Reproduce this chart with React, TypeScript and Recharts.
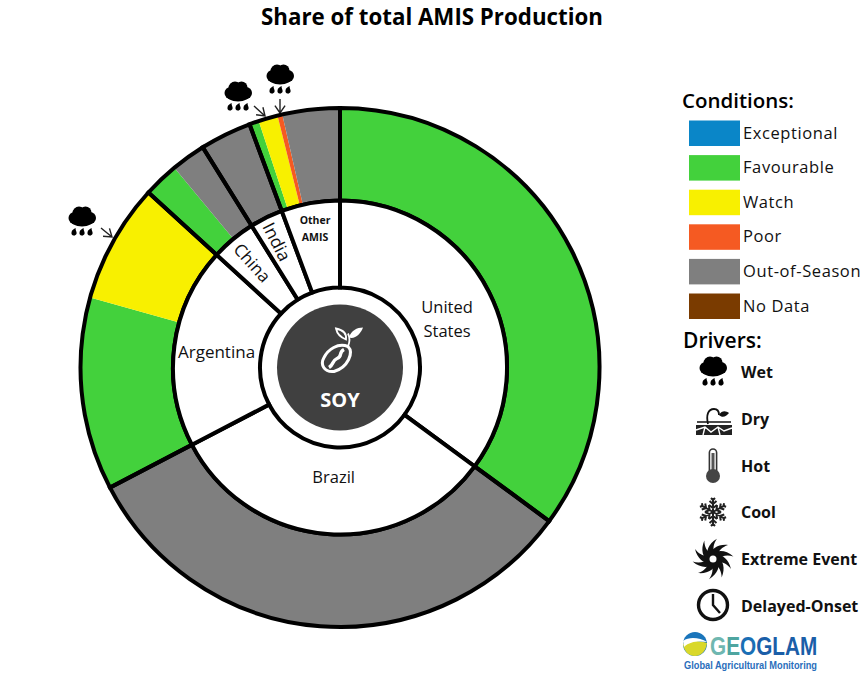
import React from 'react';
import { PieChart, Pie, Cell } from 'recharts';

const countries = ['United States', 'Brazil', 'Argentina', 'China', 'India', 'Other AMIS'];
const countryShares = [35.08, 32.26, 19.44, 4.35, 3.2, 5.67];

const conditionNames = ['US Favourable', 'Brazil Out', 'Argentina Favourable', 'Argentina Watch', 'China Favourable', 'China Out', 'India Out', 'Other Favourable', 'Other Watch', 'Other Poor', 'Other Out'];
const conditionShares = [35.08, 32.26, 12.0, 7.44, 2.2, 2.15, 3.2, 0.6, 1.2, 0.3, 3.57];
const conditionKinds = ['Favourable', 'Out-of-Season', 'Favourable', 'Watch', 'Favourable', 'Out-of-Season', 'Out-of-Season', 'Favourable', 'Watch', 'Poor', 'Out-of-Season'];

const legendConditions = ['Exceptional', 'Favourable', 'Watch', 'Poor', 'Out-of-Season', 'No Data'];
const legendColors = ['#0a86c8', '#43d13c', '#f8f000', '#f55a22', '#7f7f7f', '#7a3b00'];
const drivers = ['Wet', 'Dry', 'Hot', 'Cool', 'Extreme Event', 'Delayed-Onset'];

const colorOf = (k: string) => legendColors[legendConditions.indexOf(k)];
const countryData = countries.map((name, i) => ({ name, value: countryShares[i] }));
const conditionData = conditionNames.map((name, i) => ({ name, value: conditionShares[i], kind: conditionKinds[i] }));

const CX = 340, CY = 367.5, W = 865, H = 675;
const labelFont = '"Open Sans", "Noto Sans", sans-serif';

const labelStyle: Record<string, { r: number; rot: number; size: number; weight?: number; lines: string[]; lh: number; dx?: number; dy?: number }> = {
  'United States': { r: 120, rot: 0, size: 16.5, lines: ['United', 'States'], lh: 24, dy: 6 },
  Brazil: { r: 110, rot: 0, size: 16.5, lines: ['Brazil'], lh: 0, dx: 2 },
  Argentina: { r: 123, rot: 0, size: 17, lines: ['Argentina'], lh: 0, dx: -1.5 },
  China: { r: 136, rot: 48, size: 17, lines: ['China'], lh: 0, dx: -1 },
  India: { r: 140, rot: 63, size: 17.5, lines: ['India'], lh: 0, dx: -1.5 },
  'Other AMIS': { r: 141, rot: 0, size: 10.5, weight: 700, lines: ['Other', 'AMIS'], lh: 17 },
};

const renderCountryLabel = (p: any) => {
  const s = labelStyle[p.name];
  const a = (-p.midAngle * Math.PI) / 180;
  const x = p.cx + s.r * Math.cos(a) + (s.dx ?? 0);
  const y = p.cy + s.r * Math.sin(a) + (s.dy ?? 0);
  return (
    <text key={p.name} transform={`translate(${x},${y}) rotate(${s.rot})`} textAnchor="middle" fontFamily={labelFont} fontSize={s.size} fontWeight={s.weight ?? 400} fill="#111">
      {s.lines.map((l, i) => (
        <tspan key={l} x={0} y={(i - (s.lines.length - 1) / 2) * s.lh + s.size * 0.35}>{l}</tspan>
      ))}
    </text>
  );
};

const Drop = ({ x, y }: { x: number; y: number }) => (
  <path d={`M${x + 1.6},${y - 3.4} C${x + 1.4},${y - 1} ${x + 2.6},${y} ${x + 2.6},${y + 1.2} A2.6,2.6 0 1 1 ${x - 2.4},${y + 0.6} C${x - 2.4},${y - 1} ${x},${y - 2.6} ${x + 1.6},${y - 3.4} Z`} fill="#000" />
);

const Rain = ({ x, y, s = 1 }: { x: number; y: number; s?: number }) => (
  <g transform={`translate(${x},${y}) scale(${s})`}>
    <circle cx={-7.5} cy={1} r={6} />
    <circle cx={-3} cy={-4} r={6.5} />
    <circle cx={3.5} cy={-4.5} r={6} />
    <circle cx={8} cy={1} r={6} />
    <ellipse cx={0} cy={3} rx={12} ry={6.5} />
    <Drop x={-8} y={14.5} />
    <Drop x={0} y={14.5} />
    <Drop x={8} y={14.5} />
  </g>
);

const Arrow = ({ x1, y1, x2, y2 }: { x1: number; y1: number; x2: number; y2: number }) => {
  const a = Math.atan2(y2 - y1, x2 - x1);
  const h = 9;
  const p = (d: number) => `${x2 - h * Math.cos(a + d)},${y2 - h * Math.sin(a + d)}`;
  return <path d={`M${x1},${y1} L${x2},${y2} M${p(0.6)} L${x2},${y2} L${p(-0.6)}`} stroke="#222" strokeWidth={1.4} fill="none" />;
};

const Snow = ({ x, y }: { x: number; y: number }) => (
  <g transform={`translate(${x},${y})`} stroke="#222" strokeWidth={2} fill="none">
    {[0, 60, 120, 180, 240, 300].map((a) => (
      <g key={a} transform={`rotate(${a})`}>
        <path d="M0,0 L0,-14 M-3.5,-11 L0,-8 L3.5,-11 M-4,-7 L0,-4 L4,-7 M-2,-14 L0,-12 L2,-14" />
      </g>
    ))}
  </g>
);

const Swirl = ({ x, y }: { x: number; y: number }) => (
  <g transform={`translate(${x},${y})`}>
    {[0, 36, 72, 108, 144, 180, 216, 252, 288, 324].map((a) => (
      <path key={a} transform={`rotate(${a})`} d="M-4,-3 C-2,-10 5,-15 15,-14 C9,-12 5,-8 4,-2 Z" fill="#111" />
    ))}
    <circle r={3.5} fill="#fff" />
  </g>
);

const Clock = ({ x, y }: { x: number; y: number }) => (
  <g transform={`translate(${x},${y})`} fill="none" stroke="#111">
    <circle r={14.5} strokeWidth={3.4} />
    <path d="M0,-11 L0,0 L7,8" strokeWidth={2.4} />
  </g>
);

const Thermo = ({ x, y }: { x: number; y: number }) => (
  <g transform={`translate(${x},${y})`}>
    <rect x={-3.6} y={-17} width={7.2} height={26} rx={3.6} fill="#fff" stroke="#333" strokeWidth={1.6} />
    <path d="M0,-13 L0,6" stroke="#555" strokeWidth={3} />
    <circle cx={0} cy={10} r={7} fill="#444" />
  </g>
);

const DryIcon = ({ x, y }: { x: number; y: number }) => (
  <g transform={`translate(${x},${y})`}>
    <path d="M-6,3 C-8,-6 -6,-12 0,-12 C4,-12 5,-9 5,-6" fill="none" stroke="#111" strokeWidth={1.8} />
    <path d="M5,-6 C8,-11 12,-10 15,-8 C12,-4 8,-3 5,-6 Z" fill="#111" />
    <path d="M-17,1 L17,1" stroke="#111" strokeWidth={1.6} />
    <path d="M-18,4 H18 V14 H-18 Z" fill="#222" />
    <path d="M-18,9 L-9,6 L-3,11 L4,6 L10,10 L18,7 M-9,6 L-11,14 M4,6 L6,14" fill="none" stroke="#fff" strokeWidth={1.4} />
  </g>
);

const SoyIcon = ({ x, y }: { x: number; y: number }) => (
  <g transform={`translate(${x},${y})`}>
    <path d="M8,-8 C14,-2 8,13 -6,17 C-16,18 -20,10 -16,3 C-12,-5 -2,-12 8,-8 Z" fill="none" stroke="#fff" strokeWidth={3} />
    <path d="M4,-5 C-2,-2 3,2 -3,4 C-8,6 -6,10 -11,13" fill="none" stroke="#fff" strokeWidth={3.4} />
    <path d="M8,-8 C10,-13 10,-17 8,-21" fill="none" stroke="#fff" strokeWidth={1.8} />
    <path d="M9,-17 C11,-24 17,-27 23,-27 C21,-21 15,-15 9,-17 Z" fill="#fff" />
    <path d="M6,-15 C1,-17 -3,-21 -4,-26 C1,-25 7,-22 6,-15 Z" fill="none" stroke="#fff" strokeWidth={1.8} />
  </g>
);

const GeoLogo = () => (
  <g fontFamily='"Liberation Sans", sans-serif' fontWeight={700}>
    <circle cx={695} cy={644} r={12} fill="#1a75bb" />
    <path d="M683,644 C689,639 698,641 707,643 C706,651 701,656 695,656 C688,656 684,651 683,644 Z" fill="#d9d82a" />
    <path d="M683,641 C690,636 700,638 707,642 C699,641 690,641 684,647 Z" fill="#fff" />
    <text transform="translate(710,655) scale(0.83,1)" fontSize={25}>
      <tspan fill="#6fb7b0">G</tspan>
      <tspan fill="#4ea5a0">E</tspan>
      <tspan fill="#1a6fb5">O</tspan>
      <tspan fill="#1a5ea8">GLAM</tspan>
    </text>
    <text x={684} y={668.5} fontSize={11.5} fill="#2a6ebb" textLength={133} lengthAdjust="spacingAndGlyphs">Global Agricultural Monitoring</text>
  </g>
);

const driverIcons = [
  <Rain key="w" x={713} y={367} s={1} />,
  <DryIcon key="d" x={714} y={421} />,
  <Thermo key="h" x={713} y={466} />,
  <Snow key="c" x={713} y={512} />,
  <Swirl key="e" x={713} y={559} />,
  <Clock key="o" x={713} y={605} />,
];

export default function App() {
  return (
    <div style={{ position: 'absolute', left: 0, top: 0, width: W, height: H, background: '#fff' }}>
      <PieChart width={W} height={H} margin={{ top: 0, right: 0, bottom: 0, left: 0 }}>
        <Pie data={conditionData} dataKey="value" nameKey="name" cx={CX} cy={CY} startAngle={90} endAngle={-270} innerRadius={165} outerRadius={259.5} stroke="none" isAnimationActive={false}>
          {conditionData.map((d) => <Cell key={d.name} fill={colorOf(d.kind)} />)}
        </Pie>
        <Pie data={countryData} dataKey="value" nameKey="name" cx={CX} cy={CY} startAngle={90} endAngle={-270} innerRadius={167} outerRadius={259.5} fill="none" stroke="#000" strokeWidth={4} isAnimationActive={false} />
        <Pie data={countryData} dataKey="value" nameKey="name" cx={CX} cy={CY} startAngle={90} endAngle={-270} innerRadius={80} outerRadius={167} fill="#fff" stroke="#000" strokeWidth={4} isAnimationActive={false} label={renderCountryLabel} labelLine={false} />
        <g>
          <circle cx={CX} cy={CY} r={77} fill="#fff" />
          <circle cx={CX} cy={CY} r={63} fill="#404040" />
          <SoyIcon x={CX} y={CY - 13} />
          <text x={CX} y={CY + 39.5} textAnchor="middle" fontFamily={labelFont} fontSize={20} fontWeight={700} fill="#fff">SOY</text>

          <text x={432} y={25} textAnchor="middle" fontFamily={labelFont} fontSize={22.3} fontWeight={700} fill="#000">Share of total AMIS Production</text>

          <Rain x={238} y={92} />
          <Rain x={280} y={75} />
          <Rain x={82} y={217} />
          <Arrow x1={254} y1={106} x2={265} y2={116} />
          <Arrow x1={280} y1={99} x2={280} y2={113} />
          <Arrow x1={101} y1={228} x2={112} y2={237} />

          <text x={682} y={108} fontFamily={labelFont} fontSize={20.5} fontWeight={600} fill="#000">Conditions:</text>
          {legendConditions.map((c, i) => (
            <g key={c}>
              <rect x={689} y={120.5 + i * 34.6} width={51} height={25.5} fill={legendColors[i]} />
              <text x={743} y={138.5 + i * 34.6} fontFamily={labelFont} fontSize={16.5} letterSpacing={0.6} fill="#111">{c}</text>
            </g>
          ))}
          <text x={683} y={348} fontFamily={labelFont} fontSize={21} fontWeight={600} fill="#000">Drivers:</text>
          {drivers.map((d, i) => (
            <g key={d}>
              {driverIcons[i]}
              <text x={741} y={378 + i * 46.8} fontFamily={labelFont} fontSize={16} fontWeight={700} fill="#111">{d}</text>
            </g>
          ))}
          <GeoLogo />
        </g>
      </PieChart>
    </div>
  );
}
